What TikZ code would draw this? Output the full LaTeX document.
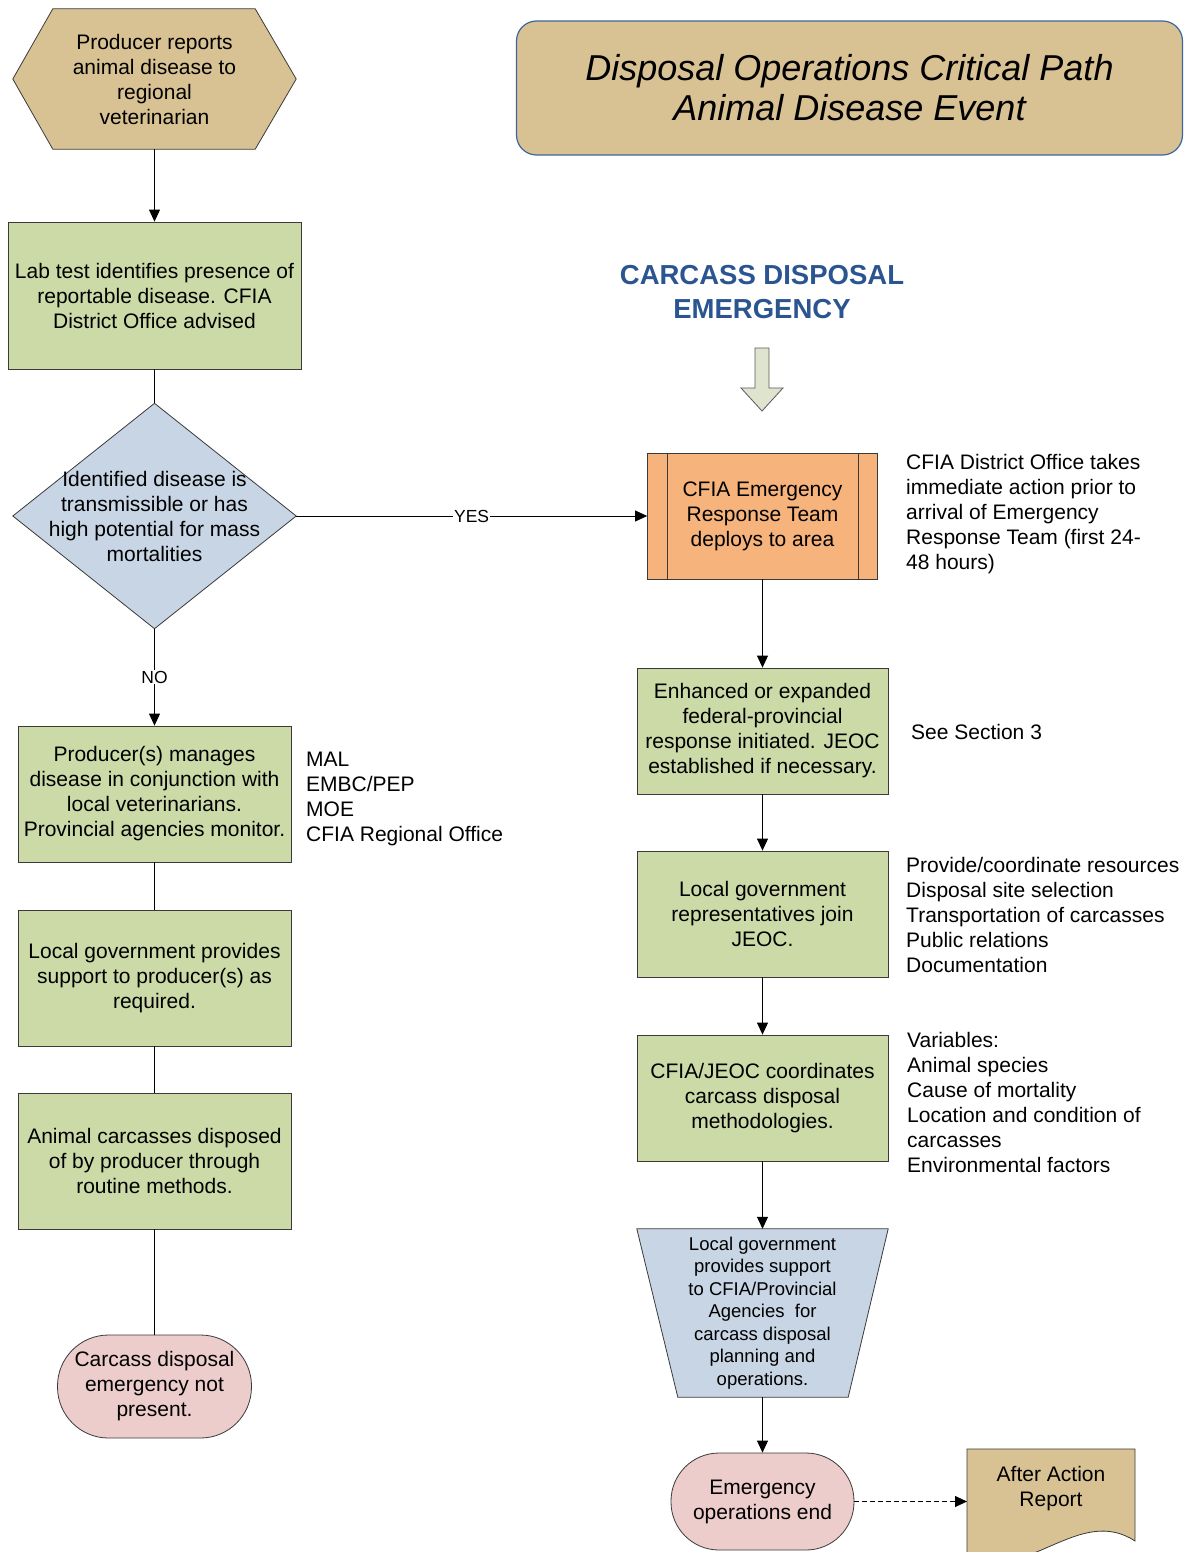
\documentclass[tikz,border=0pt]{standalone}
\usepackage{fontspec}
\setmainfont{Liberation Sans}
\usetikzlibrary{arrows.meta,backgrounds}
\definecolor{tanfill}{HTML}{D8C293}
\definecolor{greenfill}{HTML}{CCDAA8}
\definecolor{bluefill}{HTML}{C8D5E5}
\definecolor{orangefill}{HTML}{F6B37C}
\definecolor{pinkfill}{HTML}{EDCCCC}
\definecolor{arrowfill}{HTML}{DEE4CD}
\definecolor{edge}{HTML}{3A3A3A}
\definecolor{titleblue}{HTML}{3F65A0}
\definecolor{headblue}{HTML}{2A5590}
\begin{document}
\begin{tikzpicture}[x=1pt,y=-1pt,
  base/.style={font=\fontsize{21}{25}\selectfont, align=center, inner sep=0pt},
  sidetext/.style={font=\fontsize{21}{25}\selectfont, align=left, inner sep=0pt, anchor=west},
  procbox/.style={base, draw=edge, fill=greenfill, line width=0.8pt},
  termbox/.style={base, draw=edge, fill=pinkfill, line width=0.8pt},
  outline/.style={draw=edge, line width=0.8pt},
  arr/.style={-{Triangle[length=12pt,width=11pt]}, line width=0.8pt, draw=black},
  plain/.style={line width=0.8pt, draw=black},
  lbl/.style={font=\fontsize{17.5}{20}\selectfont, fill=white, inner sep=1pt}]
\useasboundingbox (0,0) rectangle (1184,1552);

% ---------- Title ----------
\node[draw=titleblue, fill=tanfill, rounded corners=20pt, line width=1.2pt,
      minimum width=666pt, minimum height=134pt, inner sep=0pt,
      font=\fontsize{36}{40}\selectfont\itshape, align=center]
  (title) at (849.5,88) {Disposal Operations Critical Path\\Animal Disease Event};

\node[font=\fontsize{27.5}{34}\selectfont\bfseries, text=headblue, align=center, inner sep=0pt]
  (head) at (762,292) {CARCASS DISPOSAL\\EMERGENCY};

% big hollow arrow
\coordinate (bigarrow) at (762,348);
\draw[draw=gray!70!black, fill=arrowfill, line width=0.8pt]
  (755,348) -- (769,348) -- (769,388) -- (783,388) -- (762,411) -- (741,388) -- (755,388) -- cycle;

% ---------- Left column ----------
\node[base, minimum width=283pt, minimum height=140pt] (hex) at (154.5,79)
  {Producer reports\\animal disease to\\regional\\veterinarian};
\begin{scope}[on background layer]
\draw[outline, fill=tanfill] (hex.west) -- ([xshift=40pt]hex.north west) -- ([xshift=-41pt]hex.north east)
  -- (hex.east) -- ([xshift=-41pt]hex.south east) -- ([xshift=40pt]hex.south west) -- cycle;
\end{scope}

\node[procbox, minimum width=293pt, minimum height=147pt] (lab) at (154.5,295.5)
  {Lab test identifies presence of\\reportable disease. CFIA\\District Office advised};

\node[base, minimum width=283pt, minimum height=225pt] (dia) at (154.5,516)
  {Identified disease is\\transmissible or has\\high potential for mass\\mortalities};
\begin{scope}[on background layer]
\draw[outline, fill=bluefill] (dia.west) -- (dia.north) -- (dia.east) -- (dia.south) -- cycle;
\end{scope}

\node[procbox, minimum width=273pt, minimum height=136pt] (prod) at (154.5,794)
  {Producer(s) manages\\disease in conjunction with\\local veterinarians.\\Provincial agencies monitor.};

\node[procbox, minimum width=273pt, minimum height=136pt] (lgov) at (154.5,978)
  {Local government provides\\support to producer(s) as\\required.};

\node[procbox, minimum width=273pt, minimum height=136pt] (anim) at (154.5,1161)
  {Animal carcasses disposed\\of by producer through\\routine methods.};

\node[termbox, minimum width=194pt, minimum height=103pt, rounded corners=51pt] (cnot) at (154.5,1386.5)
  {Carcass disposal\\emergency not\\present.};

\node[sidetext] (mal) at (306,799) {MAL\\EMBC/PEP\\MOE\\CFIA Regional Office};

% ---------- Right column ----------
\node[base, draw=edge, fill=orangefill, line width=0.8pt, minimum width=230pt, minimum height=126pt]
  (cfia) at (762.5,516) {CFIA Emergency\\Response Team\\deploys to area};
\draw[outline] ([xshift=20pt]cfia.north west) -- ([xshift=20pt]cfia.south west);
\draw[outline] ([xshift=-20pt]cfia.north east) -- ([xshift=-20pt]cfia.south east);

\node[procbox, minimum width=251pt, minimum height=126pt] (enh) at (762.5,731)
  {Enhanced or expanded\\federal-provincial\\response initiated. JEOC\\established if necessary.};

\node[procbox, minimum width=251pt, minimum height=126pt] (jeoc) at (762.5,914)
  {Local government\\representatives join\\JEOC.};

\node[procbox, minimum width=251pt, minimum height=126pt] (coord) at (762.5,1098)
  {CFIA/JEOC coordinates\\carcass disposal\\methodologies.};

\node[base, font=\fontsize{18.5}{22.5}\selectfont, minimum width=251pt, minimum height=168pt] (trap) at (762.5,1313)
  {Local government\\provides support\\to CFIA/Provincial\\Agencies\ \ for\\carcass disposal\\planning and\\operations.};
\begin{scope}[on background layer]
\draw[outline, fill=bluefill] (trap.north west) -- (trap.north east) -- ([xshift=-40pt]trap.south east)
  -- ([xshift=41pt]trap.south west) -- cycle;
\end{scope}

\node[termbox, minimum width=183pt, minimum height=97pt, rounded corners=48pt] (eend) at (762.5,1501.5)
  {Emergency\\operations end};

% After action report (document shape)
\draw[outline, fill=tanfill] (967,1449) -- (1135,1449) -- (1135,1541)
  .. controls (1080,1505) and (1030,1580) .. (967,1560) -- cycle;
\node[base] (aar) at (1051,1489) {After Action\\Report};
\coordinate (aarin) at (967,1501.5);

\node[sidetext] (note1) at (906,514) {CFIA District Office takes\\immediate action prior to\\arrival of Emergency\\Response Team (first 24-\\48 hours)};
\node[sidetext] (note2) at (911,732) {See Section 3};
\node[sidetext] (note3) at (906,915) {Provide/coordinate resources\\Disposal site selection\\Transportation of carcasses\\Public relations\\Documentation};
\node[sidetext] (note4) at (907,1102) {Variables:\\Animal species\\Cause of mortality\\Location and condition of\\carcasses\\Environmental factors};

% ---------- Connectors ----------
\draw[arr] (hex.south) -- (lab.north);
\draw[plain] (lab.south) -- (dia.north);
\draw[arr] (dia.east) -- node[lbl] {YES} (cfia.west);
\draw[arr] (dia.south) -- node[lbl] {NO} (prod.north);
\draw[plain] (prod.south) -- (lgov.north);
\draw[plain] (lgov.south) -- (anim.north);
\draw[plain] (anim.south) -- (cnot.north);

\draw[arr] (cfia.south) -- (enh.north);
\draw[arr] (enh.south) -- (jeoc.north);
\draw[arr] (jeoc.south) -- (coord.north);
\draw[arr] (coord.south) -- (trap.north);
\draw[arr] (trap.south) -- (eend.north);
\draw[arr, dash pattern=on 5pt off 3pt] (eend.east) -- (aarin);
\end{tikzpicture}
\end{document}
